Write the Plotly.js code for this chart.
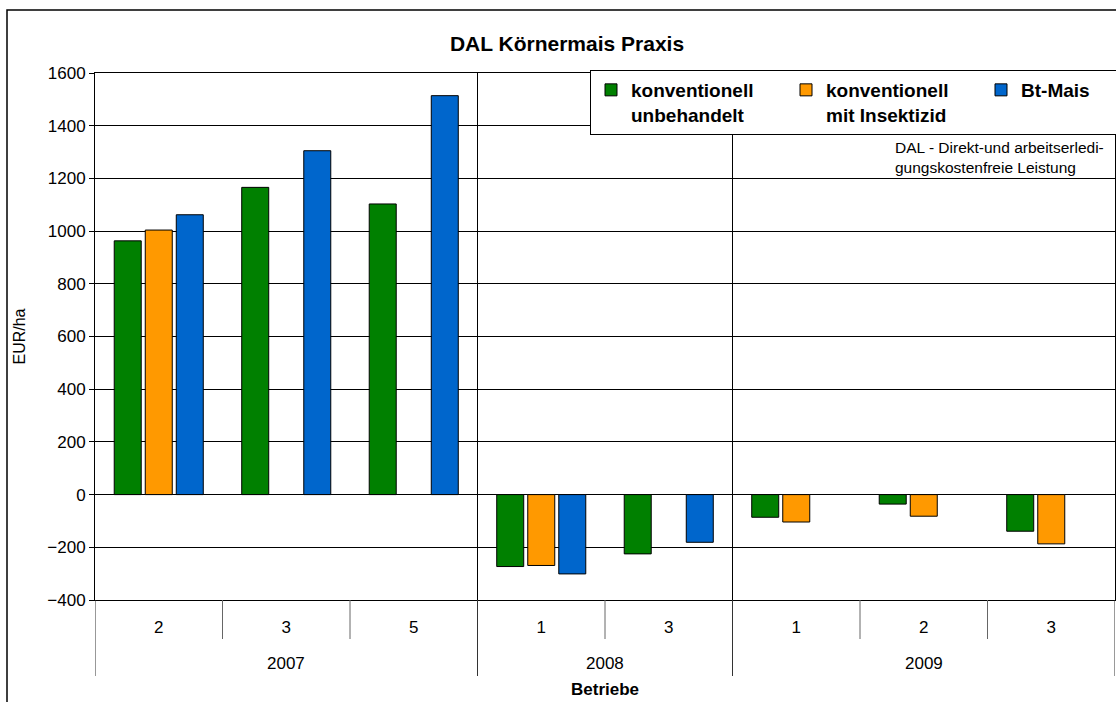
<!DOCTYPE html>
<html>
<head>
<meta charset="utf-8">
<script src="https://cdn.plot.ly/plotly-3.0.1.min.js"></script>
<style>html,body{margin:0;padding:0;background:#fff;}#chart{width:1116px;height:702px;}</style>
</head>
<body>
<div id="chart"></div>
<script>
// ---- data ----
const years    = ['2007', '2007', '2007', '2008', '2008', '2009', '2009', '2009'];
const betriebe = ['2', '3', '5', '1', '3', '1', '2', '3'];
const unbehandelt = [963, 1166, 1103, -273, -225, -86, -36, -139];
const insektizid  = [1004, null, null, -269, null, -104, -82, -187];
const btMais      = [1062, 1305, 1514, -301, -181, null, null, null];
const seriesNames = ['konventionell<br>unbehandelt', 'konventionell<br>mit Insektizid', 'Bt-Mais'];
const seriesColors = ['#008000', '#FF9900', '#0066CC'];
const yTicks = [-400, -200, 0, 200, 400, 600, 800, 1000, 1200, 1400, 1600];

// ---- geometry helpers ----
const W = 1116, H = 702;
const M = {l: 95, r: 1, t: 73, b: 102, autoexpand: false};
const plotW = W - M.l - M.r, plotH = H - M.t - M.b;
const px2x = p => (p - M.l) / plotW;
const px2y = p => (H - M.b - p) / plotH;

const idx = betriebe.map((_, i) => i);
const FONT = 'Liberation Sans, Arial, sans-serif';

const traces = [unbehandelt, insektizid, btMais].map((vals, k) => ({
  type: 'bar',
  x: idx,
  y: vals,
  name: seriesNames[k],
  marker: {color: seriesColors[k], line: {color: '#000', width: 1}},
  hoverinfo: 'y'
}));

// year groups
const groups = [];
years.forEach((y, i) => {
  if (!groups.length || groups[groups.length - 1].year !== y) groups.push({year: y, start: i, end: i});
  else groups[groups.length - 1].end = i;
});

const shapes = [];
const annotations = [];
// inner boundaries (between Betriebe of the same year)
for (let i = 1; i < years.length; i++) {
  if (years[i] === years[i - 1]) {
    shapes.push({type: 'line', xref: 'x', yref: 'paper', x0: i - 0.5, x1: i - 0.5,
      y0: 0, y1: px2y(639), line: {color: '#666', width: 1}});
  }
}
// year dividers below axis and year gridlines in plot
groups.forEach((g, k) => {
  const xs = [g.start - 0.5];
  if (k === groups.length - 1) xs.push(g.end + 0.5);
  xs.forEach(xv => {
    shapes.push({type: 'line', xref: 'x', yref: 'paper', x0: xv, x1: xv,
      y0: 0, y1: px2y(676), line: {color: '#333', width: 1}});
  });
  if (k > 0) {
    shapes.push({type: 'line', xref: 'x', yref: 'paper', x0: g.start - 0.5, x1: g.start - 0.5,
      y0: 0, y1: 1, line: {color: '#000', width: 1}});
  }
  annotations.push({xref: 'x', yref: 'paper', x: (g.start + g.end) / 2, y: px2y(663),
    text: g.year, showarrow: false, xanchor: 'center', yanchor: 'middle',
    font: {family: FONT, size: 17, color: '#000'}});
});
// outer chart border
shapes.push({type: 'rect', xref: 'paper', yref: 'paper', x0: px2x(7), x1: px2x(1125),
  y0: px2y(720), y1: px2y(10), line: {color: '#000', width: 1.5}, layer: 'below'});

annotations.push({xref: 'paper', yref: 'paper', x: px2x(893), y: px2y(137),
  xanchor: 'left', yanchor: 'top', align: 'left', showarrow: false,
  text: 'DAL - Direkt-und arbeitserledi-<br>gungskostenfreie Leistung',
  font: {family: FONT, size: 15.5, color: '#000'}});
annotations.push({xref: 'paper', yref: 'paper', x: 0.5, y: px2y(689),
  xanchor: 'center', yanchor: 'middle', showarrow: false,
  text: '<b>Betriebe</b>', font: {family: FONT, size: 17, color: '#000'}});

const layout = {
  width: W, height: H,
  margin: M,
  paper_bgcolor: '#fff', plot_bgcolor: '#fff',
  font: {family: FONT, color: '#000'},
  title: {text: '<b>DAL Körnermais Praxis</b>', font: {family: FONT, size: 21, color: '#000'},
    x: 567 / W, xref: 'container', xanchor: 'center', y: 1 - 44 / H, yref: 'container', yanchor: 'middle'},
  barmode: 'group', bargap: 0.27, bargroupgap: 0.13,
  showlegend: true,
  legend: {orientation: 'h', x: px2x(590), y: px2y(70), xanchor: 'left', yanchor: 'top',
    bgcolor: '#fff', bordercolor: '#000', borderwidth: 1, valign: 'top',
    font: {family: FONT, size: 19, color: '#000', weight: 'bold'},
    entrywidth: 150, entrywidthmode: 'pixels', traceorder: 'normal'},
  xaxis: {
    type: 'linear', range: [-0.5, betriebe.length - 0.5],
    tickmode: 'array', tickvals: idx, ticktext: betriebe,
    ticks: '', showgrid: false, zeroline: false,
    showline: true, linecolor: '#000', linewidth: 1, mirror: true,
    tickfont: {family: FONT, size: 17, color: '#000'},
    ticklabelstandoff: 12, fixedrange: true
  },
  yaxis: {
    range: [-400, 1600], tickmode: 'array', tickvals: yTicks,
    ticks: 'outside', ticklen: 5, tickcolor: '#000',
    showgrid: true, gridcolor: '#000', gridwidth: 1,
    zeroline: true, zerolinecolor: '#000', zerolinewidth: 1,
    showline: true, linecolor: '#000', linewidth: 1, mirror: true,
    tickfont: {family: FONT, size: 17, color: '#000'},
    title: {text: 'EUR/ha', font: {family: FONT, size: 16, color: '#000'}, standoff: 17},
    fixedrange: true
  },
  shapes: shapes,
  annotations: annotations
};

Plotly.newPlot('chart', traces, layout, {displayModeBar: false, staticPlot: true});
</script>
</body>
</html>
